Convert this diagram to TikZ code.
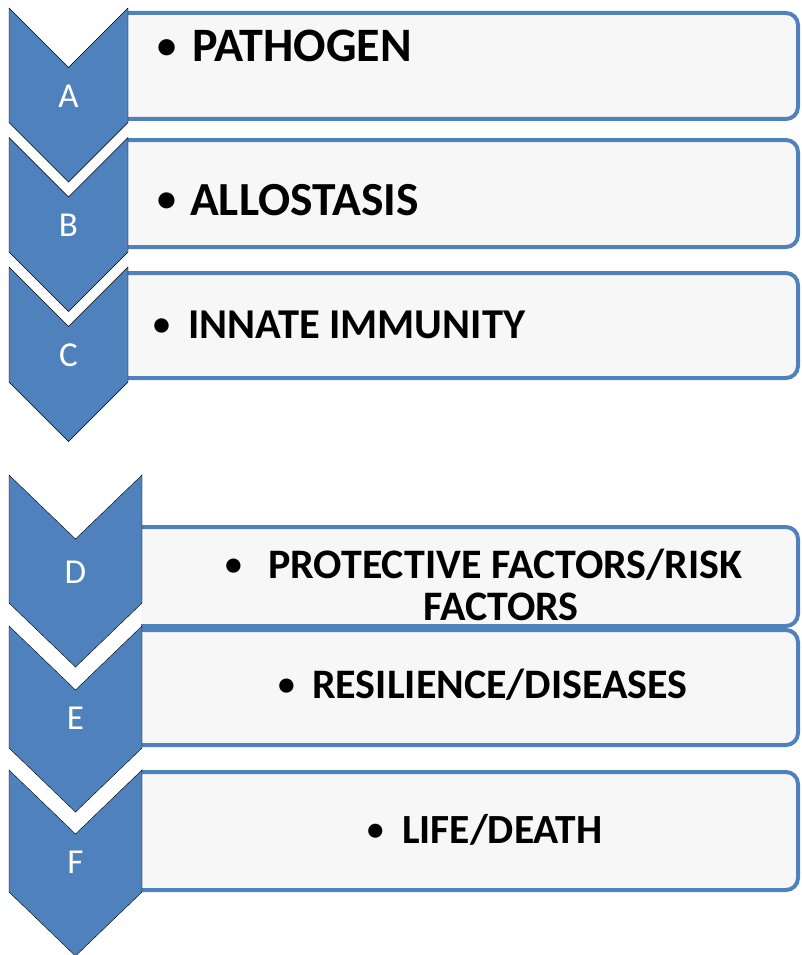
\documentclass[tikz,border=0pt]{standalone}
\usepackage{fontspec}
\usepackage{graphicx}
\setmainfont{Carlito}
\usetikzlibrary{positioning}
\definecolor{chevblue}{HTML}{4F81BD}
\definecolor{boxgray}{HTML}{F7F7F7}
\tikzset{
  chev/.style={fill=chevblue},
  listbox/.style={draw=chevblue, fill=boxgray, line width=4pt, rounded corners=12pt},
  letter/.style={text=white, inner sep=0, font=\fontsize{35}{40}\selectfont},
  item/.style={inner sep=0, anchor=base west},
}
\newcommand{\bul}[1]{\makebox[#1][l]{\hspace{2pt}\raisebox{0.07em}{\scalebox{0.8}{\textbullet}}}}

\begin{document}
\begin{tikzpicture}[x=1pt,y=-1pt]
\useasboundingbox (0,0) rectangle (801,955);
% boxes, left ends go under the chevrons
\begin{scope}
\clip (127,0) rectangle (801,450);
\draw[listbox] (100,13) rectangle (798,119);
\draw[listbox] (100,140) rectangle (798,247);
\draw[listbox] (100,273) rectangle (798,378);
\end{scope}
\begin{scope}
\clip (141,450) rectangle (801,955);
\draw[listbox] (100,527) rectangle (798,626);
\draw[listbox] (100,630) rectangle (798,745);
\draw[listbox] (100,772) rectangle (798,890);
\end{scope}
% chevrons
\foreach \yt/\h/\ly/\lab in {8/114.5/96/A, 137.5/114.5/225.5/B, 267/115/355/C}{
  \draw[chev] (9,\yt) -- ++(59.5,59.5) -- ++(59.5,-59.5) -- ++(0,\h) -- ++(-59.5,59.5) -- ++(-59.5,-59.5) -- cycle;
  \node[letter] (l\lab) at (68.5,\ly) {\lab};
}
\foreach \yt/\h/\ly/\lab in {475/128/572/D, 626/122/718/E, 770/122/862/F}{
  \draw[chev] (9,\yt) -- ++(66.5,64) -- ++(66.5,-64) -- ++(0,\h) -- ++(-66.5,64) -- ++(-66.5,-64) -- cycle;
  \node[letter] (l\lab) at (75.5,\ly) {\lab};
}
% texts
\node[item, font=\bfseries\fontsize{48}{50}\selectfont] (tA) at (155,62) {\bul{37pt}PATHOGEN};
\node[item, font=\bfseries\fontsize{47.5}{50}\selectfont] (tB) at (155,215) {\bul{35pt}ALLOSTASIS};
\node[item, font=\bfseries\fontsize{42.5}{44}\selectfont] (tC) at (151,338) {\bul{37pt}INNATE IMMUNITY};
\node[item, font=\bfseries\fontsize{42}{44}\selectfont] (tD) at (223,578) {\bul{45pt}PROTECTIVE FACTORS/RISK};
\node[anchor=base, inner sep=0, font=\bfseries\fontsize{42}{44}\selectfont] (tD2) at (501,620) {FACTORS};
\node[item, font=\bfseries\fontsize{42}{44}\selectfont] (tE) at (276,698) {\bul{36pt}RESILIENCE/DISEASES};
\node[item, font=\bfseries\fontsize{41.5}{44}\selectfont] (tF) at (365,843) {\bul{37pt}LIFE/DEATH};
\end{tikzpicture}
\end{document}
